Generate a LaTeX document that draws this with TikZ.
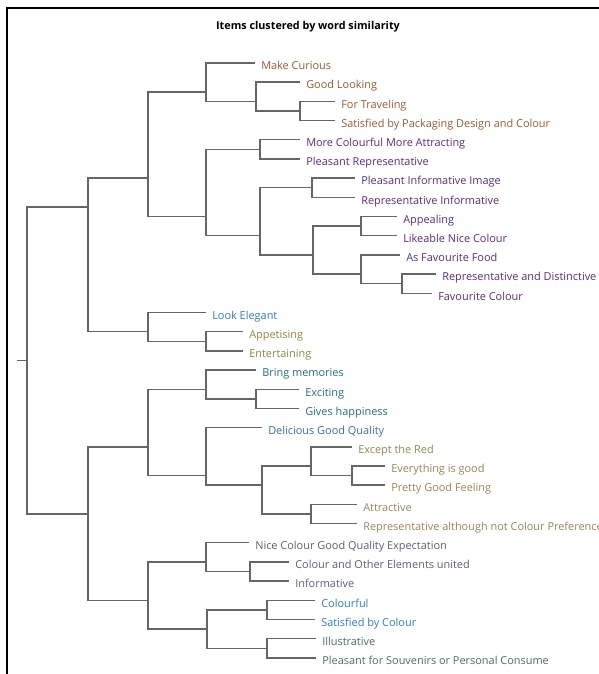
\documentclass[tikz,border=0pt]{standalone}
\usepackage{fontspec}
\setmainfont{Open Sans}
\newcommand\lvy[1]{63+19.19*(#1-1)}
\definecolor{cbrown}{HTML}{9B5B34}
\definecolor{cpurple}{HTML}{5C2D7A}
\definecolor{cblueA}{HTML}{2F7FBF}
\definecolor{colive}{HTML}{8E8648}
\definecolor{cteal}{HTML}{24707A}
\definecolor{cblueB}{HTML}{3C6FA8}
\definecolor{ckhaki}{HTML}{9A8556}
\definecolor{cslate}{HTML}{5D5F7E}
\definecolor{cgreen}{HTML}{4D6E5C}
\definecolor{cline}{HTML}{666666}
\begin{document}
\begin{tikzpicture}[x=0.75pt,y=-0.75pt,
  leaf/.style={anchor=west, inner xsep=4.5pt, inner ysep=0pt, text height=10.2pt, text depth=0pt, font=\fontsize{8.2}{9}\selectfont},
  branch/.style={draw=cline, line width=1.1pt},
  frame/.style={draw=black, line width=1.1pt}]
\useasboundingbox (0,0) rectangle (599,674);
\fill[white] (0,0) rectangle (599,674);
\begin{scope}
\clip (0,0) rectangle (599,674);
\draw[frame] (7,680) -- (7,8) -- (605,8);
\node[font=\bfseries\fontsize{8.1}{9}\selectfont] (title) at (308,27) {Items clustered by word similarity};

% join points
\coordinate (stub) at (17,{\lvy{16.5}});
\coordinate (root) at (27,{\lvy{16.5}});
\coordinate (top) at (88,{\lvy{8.5}});
\coordinate (bot) at (88,{\lvy{24.5}});
\coordinate (ab) at (148,{\lvy{7}});
\coordinate (c) at (148,{\lvy{15}});
\coordinate (a) at (206,{\lvy{2.5}});
\coordinate (b) at (206,{\lvy{9}});
\coordinate (j234) at (256,{\lvy{3}});
\coordinate (j34) at (300,{\lvy{3.5}});
\coordinate (j56) at (260,{\lvy{5.5}});
\coordinate (j713) at (260,{\lvy{10}});
\coordinate (j78) at (312,{\lvy{7.5}});
\coordinate (j913) at (313,{\lvy{11}});
\coordinate (j910) at (361,{\lvy{9.5}});
\coordinate (j1113) at (361,{\lvy{12}});
\coordinate (j1213) at (402,{\lvy{12.5}});
\coordinate (j1516) at (206,{\lvy{15.5}});
\coordinate (d) at (148,{\lvy{21}});
\coordinate (e) at (148,{\lvy{29}});
\coordinate (d1) at (206,{\lvy{18}});
\coordinate (j1819) at (256,{\lvy{18.5}});
\coordinate (d2) at (206,{\lvy{22.5}});
\coordinate (j2125) at (262,{\lvy{23}});
\coordinate (j2123) at (311,{\lvy{22}});
\coordinate (j2223) at (352,{\lvy{22.5}});
\coordinate (j2425) at (311,{\lvy{24.5}});
\coordinate (e1) at (206,{\lvy{27}});
\coordinate (j2728) at (250,{\lvy{27.5}});
\coordinate (e2) at (207,{\lvy{30.5}});
\coordinate (j2930) at (267,{\lvy{29.5}});
\coordinate (j3132) at (267,{\lvy{31.5}});

% leaves
\node[leaf,text=cbrown] (l1) at (255,{\lvy{1}}) {Make Curious};
\node[leaf,text=cbrown] (l2) at (300,{\lvy{2}}) {Good Looking};
\node[leaf,text=cbrown] (l3) at (335,{\lvy{3}}) {For Traveling};
\node[leaf,text=cbrown] (l4) at (335,{\lvy{4}}) {Satisfied by Packaging Design and Colour};
\node[leaf,text=cpurple] (l5) at (300,{\lvy{5}}) {More Colourful More Attracting};
\node[leaf,text=cpurple] (l6) at (300,{\lvy{6}}) {Pleasant Representative};
\node[leaf,text=cpurple] (l7) at (355,{\lvy{7}}) {Pleasant Informative Image};
\node[leaf,text=cpurple] (l8) at (355,{\lvy{8}}) {Representative Informative};
\node[leaf,text=cpurple] (l9) at (397,{\lvy{9}}) {Appealing};
\node[leaf,text=cpurple] (l10) at (397,{\lvy{10}}) {Likeable Nice Colour};
\node[leaf,text=cpurple] (l11) at (400,{\lvy{11}}) {As Favourite Food};
\node[leaf,text=cpurple] (l12) at (436,{\lvy{12}}) {Representative and Distinctive};
\node[leaf,text=cpurple] (l13) at (432,{\lvy{13}}) {Favourite Colour};
\node[leaf,text=cblueA] (l14) at (206,{\lvy{14}}) {Look Elegant};
\node[leaf,text=colive] (l15) at (243,{\lvy{15}}) {Appetising};
\node[leaf,text=colive] (l16) at (243,{\lvy{16}}) {Entertaining};
\node[leaf,text=cteal] (l17) at (256,{\lvy{17}}) {Bring memories};
\node[leaf,text=cteal] (l18) at (299,{\lvy{18}}) {Exciting};
\node[leaf,text=cteal] (l19) at (299,{\lvy{19}}) {Gives happiness};
\node[leaf,text=cblueB] (l20) at (262,{\lvy{20}}) {Delicious Good Quality};
\node[leaf,text=ckhaki] (l21) at (352,{\lvy{21}}) {Except the Red};
\node[leaf,text=ckhaki] (l22) at (385,{\lvy{22}}) {Everything is good};
\node[leaf,text=ckhaki] (l23) at (385,{\lvy{23}}) {Pretty Good Feeling};
\node[leaf,text=ckhaki] (l24) at (357,{\lvy{24}}) {Attractive};
\node[leaf,text=ckhaki] (l25) at (357,{\lvy{25}}) {Representative although not Colour Preference};
\node[leaf,text=cslate] (l26) at (249,{\lvy{26}}) {Nice Colour Good Quality Expectation};
\node[leaf,text=cslate] (l27) at (289,{\lvy{27}}) {Colour and Other Elements united};
\node[leaf,text=cslate] (l28) at (289,{\lvy{28}}) {Informative};
\node[leaf,text=cblueA] (l29) at (315,{\lvy{29}}) {Colourful};
\node[leaf,text=cblueA] (l30) at (315,{\lvy{30}}) {Satisfied by Colour};
\node[leaf,text=cgreen] (l31) at (316,{\lvy{31}}) {Illustrative};
\node[leaf,text=cgreen] (l32) at (316,{\lvy{32}}) {Pleasant for Souvenirs or Personal Consume};

% connectors
\draw[branch] (stub) -- (root);
\draw[branch] (root) |- (top);
\draw[branch] (root) |- (bot);
\draw[branch] (top) |- (ab);
\draw[branch] (top) |- (c);
\draw[branch] (ab) |- (a);
\draw[branch] (ab) |- (b);
\draw[branch] (a) |- (l1.west);
\draw[branch] (a) |- (j234);
\draw[branch] (j234) |- (l2.west);
\draw[branch] (j234) |- (j34);
\draw[branch] (j34) |- (l3.west);
\draw[branch] (j34) |- (l4.west);
\draw[branch] (b) |- (j56);
\draw[branch] (b) |- (j713);
\draw[branch] (j56) |- (l5.west);
\draw[branch] (j56) |- (l6.west);
\draw[branch] (j713) |- (j78);
\draw[branch] (j713) |- (j913);
\draw[branch] (j78) |- (l7.west);
\draw[branch] (j78) |- (l8.west);
\draw[branch] (j913) |- (j910);
\draw[branch] (j913) |- (j1113);
\draw[branch] (j910) |- (l9.west);
\draw[branch] (j910) |- (l10.west);
\draw[branch] (j1113) |- (l11.west);
\draw[branch] (j1113) |- (j1213);
\draw[branch] (j1213) |- (l12.west);
\draw[branch] (j1213) |- (l13.west);
\draw[branch] (c) |- (l14.west);
\draw[branch] (c) |- (j1516);
\draw[branch] (j1516) |- (l15.west);
\draw[branch] (j1516) |- (l16.west);
\draw[branch] (bot) |- (d);
\draw[branch] (bot) |- (e);
\draw[branch] (d) |- (d1);
\draw[branch] (d) |- (d2);
\draw[branch] (d1) |- (l17.west);
\draw[branch] (d1) |- (j1819);
\draw[branch] (j1819) |- (l18.west);
\draw[branch] (j1819) |- (l19.west);
\draw[branch] (d2) |- (l20.west);
\draw[branch] (d2) |- (j2125);
\draw[branch] (j2125) |- (j2123);
\draw[branch] (j2125) |- (j2425);
\draw[branch] (j2123) |- (l21.west);
\draw[branch] (j2123) |- (j2223);
\draw[branch] (j2223) |- (l22.west);
\draw[branch] (j2223) |- (l23.west);
\draw[branch] (j2425) |- (l24.west);
\draw[branch] (j2425) |- (l25.west);
\draw[branch] (e) |- (e1);
\draw[branch] (e) |- (e2);
\draw[branch] (e1) |- (l26.west);
\draw[branch] (e1) |- (j2728);
\draw[branch] (j2728) |- (l27.west);
\draw[branch] (j2728) |- (l28.west);
\draw[branch] (e2) |- (j2930);
\draw[branch] (e2) |- (j3132);
\draw[branch] (j2930) |- (l29.west);
\draw[branch] (j2930) |- (l30.west);
\draw[branch] (j3132) |- (l31.west);
\draw[branch] (j3132) |- (l32.west);
\end{scope}
\end{tikzpicture}
\end{document}
